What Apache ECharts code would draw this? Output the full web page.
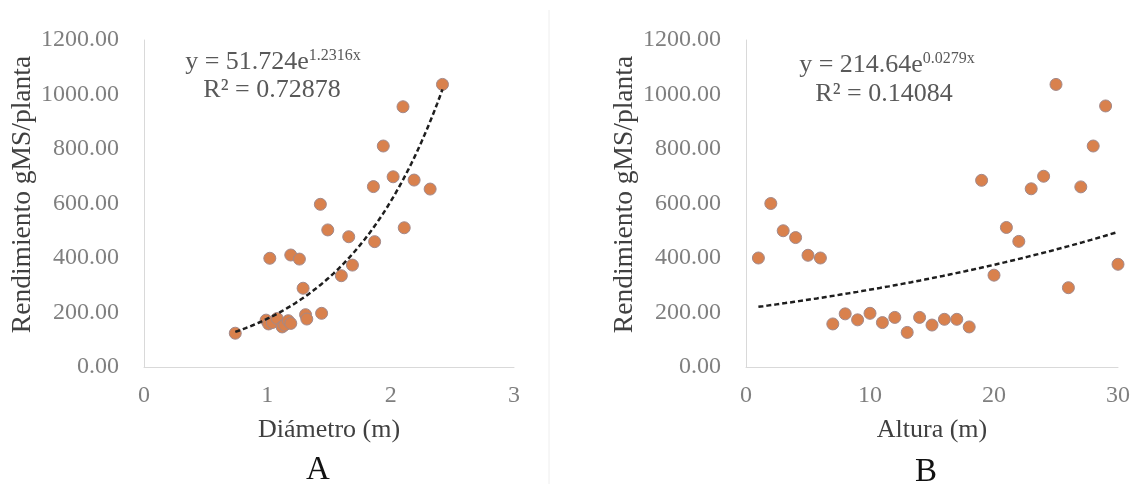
<!DOCTYPE html>
<html>
<head>
<meta charset="utf-8">
<script src="https://cdn.jsdelivr.net/npm/echarts@6/dist/echarts.min.js"></script>
<style>
html,body{margin:0;padding:0;background:#fff;}
#c{width:1134px;height:484px;}
</style>
</head>
<body>
<div id="c"></div>
<script>
// ---- Data ----
// Panel A: diameter (m) vs yield
const diametro = [0.74, 2.42, 2.10, 1.94, 2.02, 2.19, 2.32, 1.86, 1.43, 1.49,
                  1.66, 1.87, 2.11, 1.02, 1.19, 1.26, 1.69, 1.60, 1.29, 1.31,
                  1.32, 1.44, 0.99, 1.01, 1.04, 1.08, 1.12, 1.14, 1.17, 1.19];
const rendA    = [124, 1037, 955, 811, 698, 686, 653, 662, 597, 503,
                  478, 460, 511, 399, 411, 396, 374, 335, 289, 192,
                  176, 197, 172, 158, 163, 178, 147, 154, 170, 160];
// Panel B: height (m) vs yield
const altura   = [1, 2, 3, 4, 5, 6, 7, 8, 9, 10, 11, 12, 13, 14, 15,
                  16, 17, 18, 19, 20, 21, 22, 23, 24, 25, 26, 27, 28, 29, 30];
const rendB    = [400, 600, 500, 475, 410, 400, 158, 195, 173, 197, 163, 182, 127, 182, 154,
                  175, 175, 147, 685, 337, 512, 461, 654, 700, 1037, 291, 661, 811, 958, 377];
// Exponential trendline coefficients shown on the chart: y = a * e^(b x)
const trendA = [51.724, 1.2316];
const trendB = [214.64, 0.0279];
const r2A = '0.72878';
const r2B = '0.14084';
// Axis ticks [min, max, interval]
const yTicks = [0, 1200, 200];
const xTicksA = [0, 3, 1];
const xTicksB = [0, 30, 10];

function trend(coef, xs) {
  const lo = Math.min.apply(null, xs), hi = Math.max.apply(null, xs);
  const pts = [];
  const n = 80;
  for (let i = 0; i <= n; i++) {
    const x = lo + (hi - lo) * i / n;
    pts.push([x, coef[0] * Math.exp(coef[1] * x)]);
  }
  return pts;
}
function pairs(xs, ys) { return xs.map((x, i) => [x, ys[i]]); }

const FONT = "'Liberation Serif','Times New Roman',serif";
const axisLine = {show: true, lineStyle: {color: '#d9d9d9', width: 1}};
function yAx(idx) {
  return {
    type: 'value', gridIndex: idx, min: yTicks[0], max: yTicks[1], interval: yTicks[2],
    axisLine: axisLine, axisTick: {show: false}, splitLine: {show: false},
    axisLabel: {formatter: v => v.toFixed(2), color: '#7f7f7f', fontFamily: FONT, fontSize: 24, margin: 25},
    name: 'Rendimiento gMS/planta', nameLocation: 'middle', nameGap: 106, nameRotate: 90,
    nameTextStyle: {color: '#404040', fontFamily: FONT, fontSize: 27.5, padding: [0, 0, 0, 18]}
  };
}
function xAx(idx, t, name) {
  return {
    type: 'value', gridIndex: idx, min: t[0], max: t[1], interval: t[2],
    axisLine: axisLine, axisTick: {show: false}, splitLine: {show: false},
    axisLabel: {color: '#7f7f7f', fontFamily: FONT, fontSize: 24, margin: 17},
    name: name, nameLocation: 'middle', nameGap: 50,
    nameTextStyle: {color: '#404040', fontFamily: FONT, fontSize: 26}
  };
}
const markerStyle = {color: '#d9814d', borderColor: '#a3898a', borderWidth: 1, opacity: 1};
const trendStyle = {color: '#1e1e1e', width: 2.5, type: [5, 3]};

const chart = echarts.init(document.getElementById('c'), null, {renderer: 'canvas'});
const eqRich = {
  n: {fontFamily: FONT, fontSize: 26, fill: '#595959', color: '#595959'},
  s: {fontFamily: FONT, fontSize: 16, fill: '#595959', color: '#595959', padding: [0, 0, 12, 0]}
};
const eqText = {fontFamily: FONT, fontSize: 26, fill: '#595959', align: 'center', verticalAlign: 'middle'};
chart.setOption({
  animation: false,
  backgroundColor: '#ffffff',
  grid: [
    {left: 144, top: 40, width: 370, height: 327},
    {left: 746, top: 40, width: 372, height: 327}
  ],
  xAxis: [xAx(0, xTicksA, 'Diámetro (m)'), xAx(1, xTicksB, 'Altura (m)')],
  yAxis: [yAx(0), yAx(1)],
  series: [
    {type: 'scatter', xAxisIndex: 0, yAxisIndex: 0, data: pairs(diametro, rendA),
     symbolSize: 12, itemStyle: markerStyle, z: 2},
    {type: 'line', xAxisIndex: 0, yAxisIndex: 0, data: trend(trendA, diametro),
     showSymbol: false, symbol: 'none', lineStyle: trendStyle, z: 3, silent: true},
    {type: 'scatter', xAxisIndex: 1, yAxisIndex: 1, data: pairs(altura, rendB),
     symbolSize: 12, itemStyle: markerStyle, z: 2},
    {type: 'line', xAxisIndex: 1, yAxisIndex: 1, data: trend(trendB, altura),
     showSymbol: false, symbol: 'none', lineStyle: trendStyle, z: 3, silent: true}
  ],
  graphic: [
    {type: 'line', shape: {x1: 549, y1: 10, x2: 549, y2: 484}, style: {stroke: '#eeeeee', lineWidth: 1}},
    {type: 'text', x: 273, y: 62, style: Object.assign({}, eqText, {text: '{n|y = ' + trendA[0] + 'e}{s|' + trendA[1] + 'x}', rich: eqRich})},
    {type: 'text', x: 272, y: 90, style: Object.assign({}, eqText, {text: 'R² = ' + r2A})},
    {type: 'text', x: 887, y: 65, style: Object.assign({}, eqText, {text: '{n|y = ' + trendB[0] + 'e}{s|' + trendB[1] + 'x}', rich: eqRich})},
    {type: 'text', x: 884, y: 94, style: Object.assign({}, eqText, {text: 'R² = ' + r2B})},
    {type: 'text', x: 318, y: 470, style: {text: 'A', fontFamily: FONT, fontSize: 33, fill: '#111111', align: 'center', verticalAlign: 'middle'}},
    {type: 'text', x: 926, y: 472, style: {text: 'B', fontFamily: FONT, fontSize: 33, fill: '#111111', align: 'center', verticalAlign: 'middle'}}
  ]
});
</script>
</body>
</html>
